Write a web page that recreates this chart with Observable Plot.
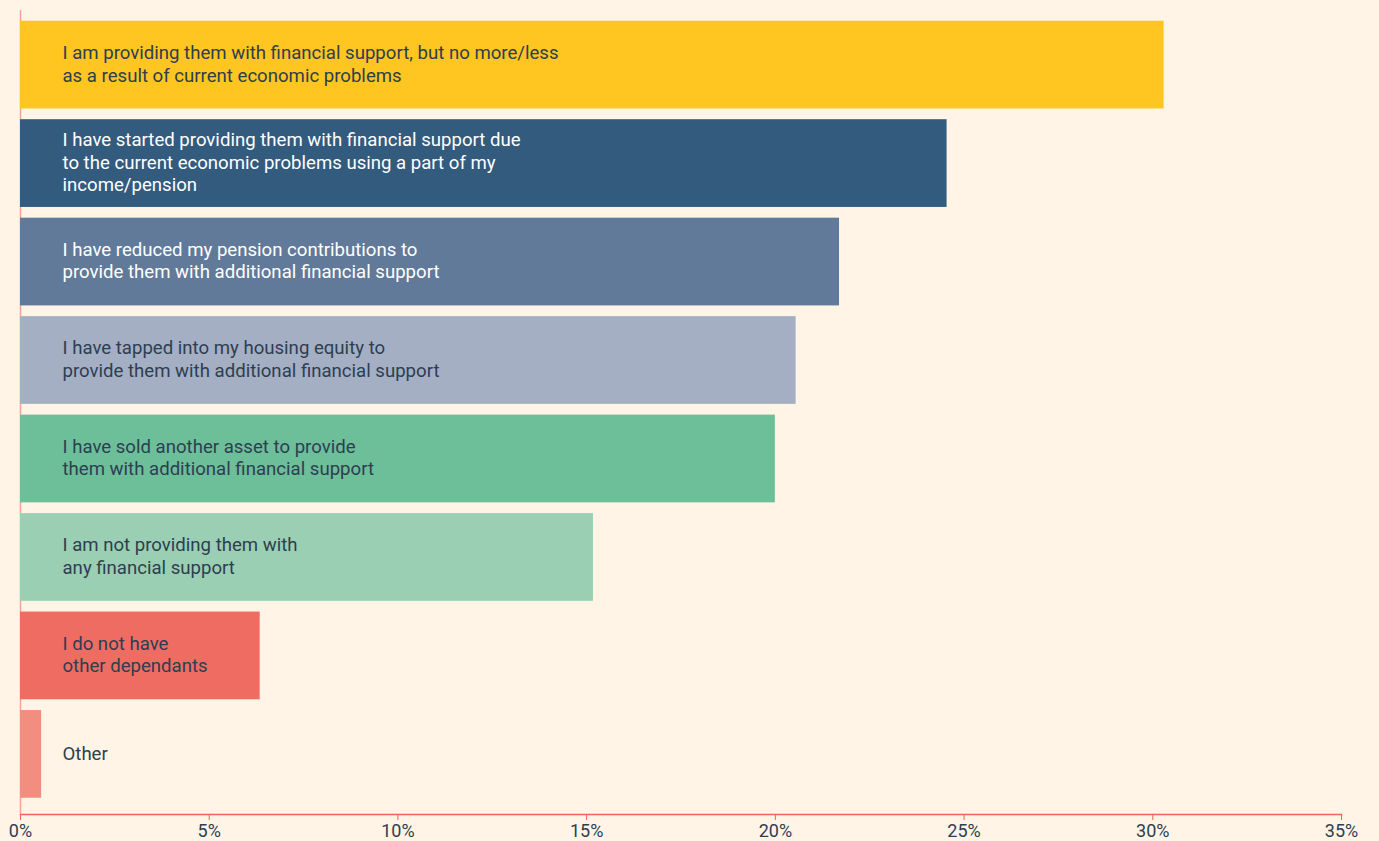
<!DOCTYPE html>
<html>
<head>
<meta charset="utf-8">
<script src="https://cdn.jsdelivr.net/npm/d3@7"></script>
<script src="https://cdn.jsdelivr.net/npm/@observablehq/plot@0.6"></script>
<style>
  html, body { margin: 0; padding: 0; background: #FFF4E6; }
  #chart svg { display: block; }
</style>
</head>
<body>
<div id="chart"></div>
<script>
const categories = [
  "I am providing them with financial support, but no more/less\nas a result of current economic problems",
  "I have started providing them with financial support due\nto the current economic problems using a part of my\nincome/pension",
  "I have reduced my pension contributions to\nprovide them with additional financial support",
  "I have tapped into my housing equity to\nprovide them with additional financial support",
  "I have sold another asset to provide\nthem with additional financial support",
  "I am not providing them with\nany financial support",
  "I do not have\nother dependants",
  "Other"
];
const values = [30.3, 24.55, 21.7, 20.55, 20.0, 15.18, 6.35, 0.56];
const barColors = ["#FFC520", "#335B7E", "#617A99", "#A4AFC4", "#6CBF99", "#9BCFB4", "#EF6C63", "#F28E80"];
const textColors = ["#2E3E50", "#FFFFFF", "#FFFFFF", "#2E3E50", "#2E3E50", "#2E3E50", "#2E3E50", "#2E3E50"];
const xTicks = [0, 5, 10, 15, 20, 25, 30, 35];

const data = categories.map((c, i) => ({cat: c, value: values[i], color: barColors[i], tcolor: textColors[i]}));
const axisRed = "#F0625A";

const chart = Plot.plot({
  width: 1379,
  height: 841,
  marginLeft: 20,
  marginRight: 38,
  marginTop: 10,
  marginBottom: 27,
  style: {background: "#FFF4E6", fontFamily: "Roboto, sans-serif", color: "#2E3E50"},
  x: {domain: [0, 35], label: null},
  y: {domain: categories, padding: 0.109, insetBottom: 5.5, round: false, axis: null},
  marks: [
    Plot.ruleX([0], {stroke: axisRed, strokeOpacity: 0.55, strokeWidth: 1.5}),
    Plot.barX(data, {y: "cat", x: "value", fill: d => d.color}),
    Plot.text(data, {y: "cat", x: 0, text: "cat", dx: 42, dy: -2, textAnchor: "start", fill: d => d.tcolor, fontSize: 18.6, lineHeight: 1.21}),
    Plot.frame({anchor: "bottom", stroke: axisRed, strokeWidth: 1.5}),
    Plot.axisX({ticks: xTicks, tickFormat: d => d + "%", tickSize: 6, tickPadding: 4, stroke: axisRed, fill: "#2E3E50", fontSize: 18, label: null})
  ]
});
document.getElementById("chart").appendChild(chart);
</script>
</body>
</html>
